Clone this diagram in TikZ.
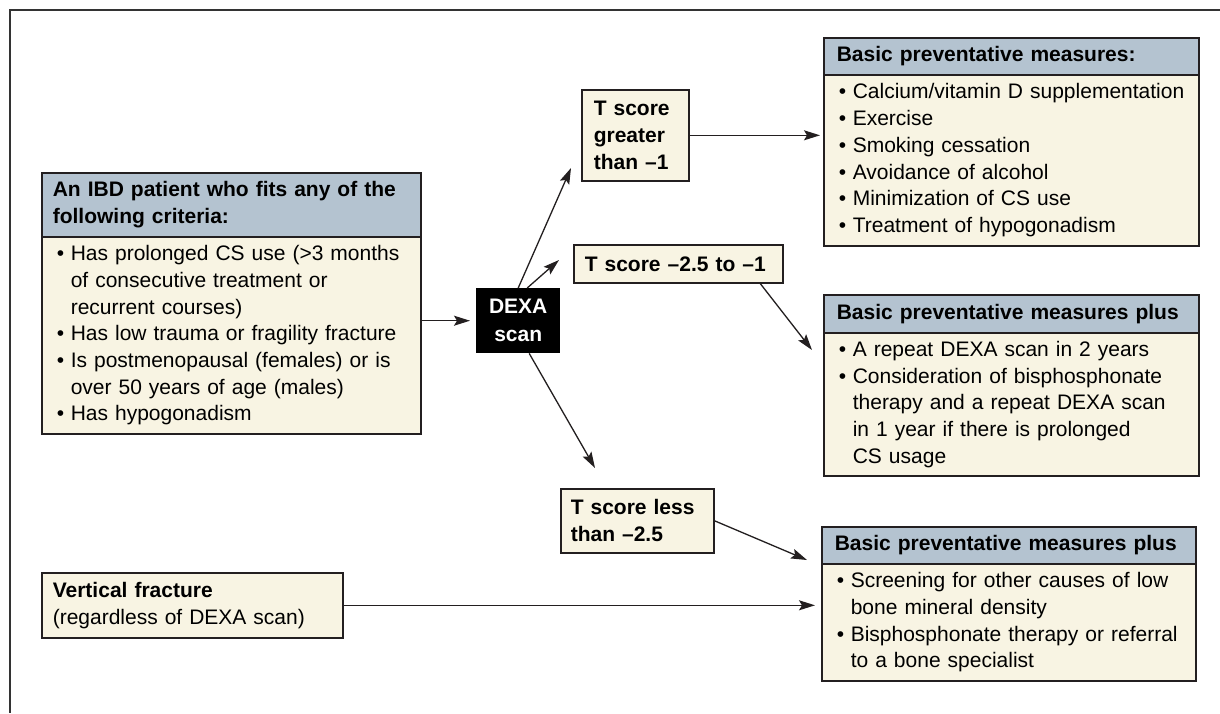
\documentclass[tikz,border=0pt]{standalone}
\usepackage{fontspec}
\setmainfont{Liberation Sans}
\usetikzlibrary{arrows.meta}
\definecolor{hdr}{HTML}{B4C3D0}
\definecolor{bdy}{HTML}{F8F4E3}
\definecolor{edge}{HTML}{231F20}
\newcommand{\bitem}[1]{\hspace*{4pt}\makebox[14pt][l]{•}#1}
\newcommand{\bcont}[1]{\hspace*{18pt}#1}
\begin{document}
\begin{tikzpicture}[x=1pt,y=-1pt,
 boxbase/.style={draw=edge, line width=1.6pt, anchor=north west, inner ysep=0pt, inner xsep=11pt, align=left, font=\fontsize{21}{26.7}\selectfont},
 hdrbox/.style={boxbase, fill=hdr, font=\fontsize{21}{26.7}\selectfont\bfseries},
 bodybox/.style={boxbase, fill=bdy},
 tbox/.style={boxbase, fill=bdy, font=\fontsize{21}{26.7}\selectfont\bfseries},
 dexabox/.style={fill=black, text=white, anchor=north west, inner sep=0pt, align=center, font=\fontsize{21}{28}\selectfont\bfseries},
 conn/.style={draw=edge, line width=1.3pt, -{Stealth[length=16pt,width=10pt,inset=3pt]}},
 frameline/.style={draw=black!80, line width=1.5pt}]

\fill[white] (0,0) rectangle (1220,713);
\useasboundingbox (0,0) rectangle (1220,713);
\draw[frameline] (1220,10) -- (10,10) -- (10,713);

% left criteria box
\node[hdrbox, minimum width=379pt, minimum height=64pt, text width=357pt] (ibdh) at (41,172)
  {An IBD patient who fits any of the\\following criteria:};
\node[bodybox, minimum width=379pt, minimum height=197pt, text width=357pt] (ibd) at (41,236)
  {\bitem{Has prolonged CS use (>3 months}\\
   \bcont{of consecutive treatment or}\\
   \bcont{recurrent courses)}\\
   \bitem{Has low trauma or fragility fracture}\\
   \bitem{Is postmenopausal (females) or is}\\
   \bcont{over 50 years of age (males)}\\
   \bitem{Has hypogonadism}};

% DEXA
\node[dexabox, minimum width=84pt, minimum height=65pt] (dexa) at (476,288) {DEXA\\scan};

% T score boxes
\node[tbox, inner xsep=12pt, minimum width=107pt, minimum height=91pt, text width=83pt] (tg) at (581,89)
  {T score\\greater\\than –1};
\node[tbox, minimum width=209pt, minimum height=38pt, text width=187pt] (tm) at (573,244)
  {T score –2.5 to –1};
\node[tbox, inner xsep=10pt, minimum width=153pt, minimum height=64pt, text width=133pt] (tl) at (560,488)
  {T score less\\than –2.5};

% vertical fracture
\node[bodybox, minimum width=301pt, minimum height=65pt, text width=279pt] (vf) at (41,572)
  {\textbf{Vertical fracture}\\(regardless of DEXA scan)};

% right boxes
\node[hdrbox, inner xsep=13pt, minimum width=375pt, minimum height=37pt, text width=349pt] (b1h) at (823,37)
  {Basic preventative measures:};
\node[bodybox, minimum width=375pt, minimum height=171pt, text width=353pt] (b1) at (823,74)
  {\bitem{Calcium/vitamin D supplementation}\\
   \bitem{Exercise}\\
   \bitem{Smoking cessation}\\
   \bitem{Avoidance of alcohol}\\
   \bitem{Minimization of CS use}\\
   \bitem{Treatment of hypogonadism}};

\node[hdrbox, inner xsep=13pt, minimum width=375pt, minimum height=38pt, text width=349pt] (b2h) at (823,294)
  {Basic preventative measures plus};
\node[bodybox, minimum width=375pt, minimum height=143pt, text width=353pt] (b2) at (823,332)
  {\bitem{A repeat DEXA scan in 2 years}\\
   \bitem{Consideration of bisphosphonate}\\
   \bcont{therapy and a repeat DEXA scan}\\
   \bcont{in 1 year if there is prolonged}\\
   \bcont{CS usage}};

\node[hdrbox, inner xsep=13pt, minimum width=374pt, minimum height=37pt, text width=348pt] (b3h) at (821,526)
  {Basic preventative measures plus};
\node[bodybox, minimum width=374pt, minimum height=117pt, text width=352pt] (b3) at (821,563)
  {\bitem{Screening for other causes of low}\\
   \bcont{bone mineral density}\\
   \bitem{Bisphosphonate therapy or referral}\\
   \bcont{to a bone specialist}};

% free arrow ends
\coordinate (tgend) at (571,168);
\coordinate (tmend) at (559,260);
\coordinate (tlend) at (595,468);
\coordinate (b2end) at (812,350);
\coordinate (b3end) at (807,560);

% connectors
\draw[conn, shorten >=6pt] (ibd.east |- dexa.west) -- (dexa.west);
\draw[conn] (dexa.north) -- (tgend);
\draw[conn] ([xshift=9pt]dexa.north) -- (tmend);
\draw[conn] ([xshift=11pt]dexa.south) -- (tlend);
\draw[conn, shorten >=3pt] (tg.east) -- (tg.east -| b1.west);
\draw[conn] ([xshift=82pt]tm.south) -- (b2end);
\draw[conn] (tl.east) -- (b3end);
\draw[conn, shorten >=6pt] (vf.east) -- (vf.east -| b3.west);
\end{tikzpicture}
\end{document}
